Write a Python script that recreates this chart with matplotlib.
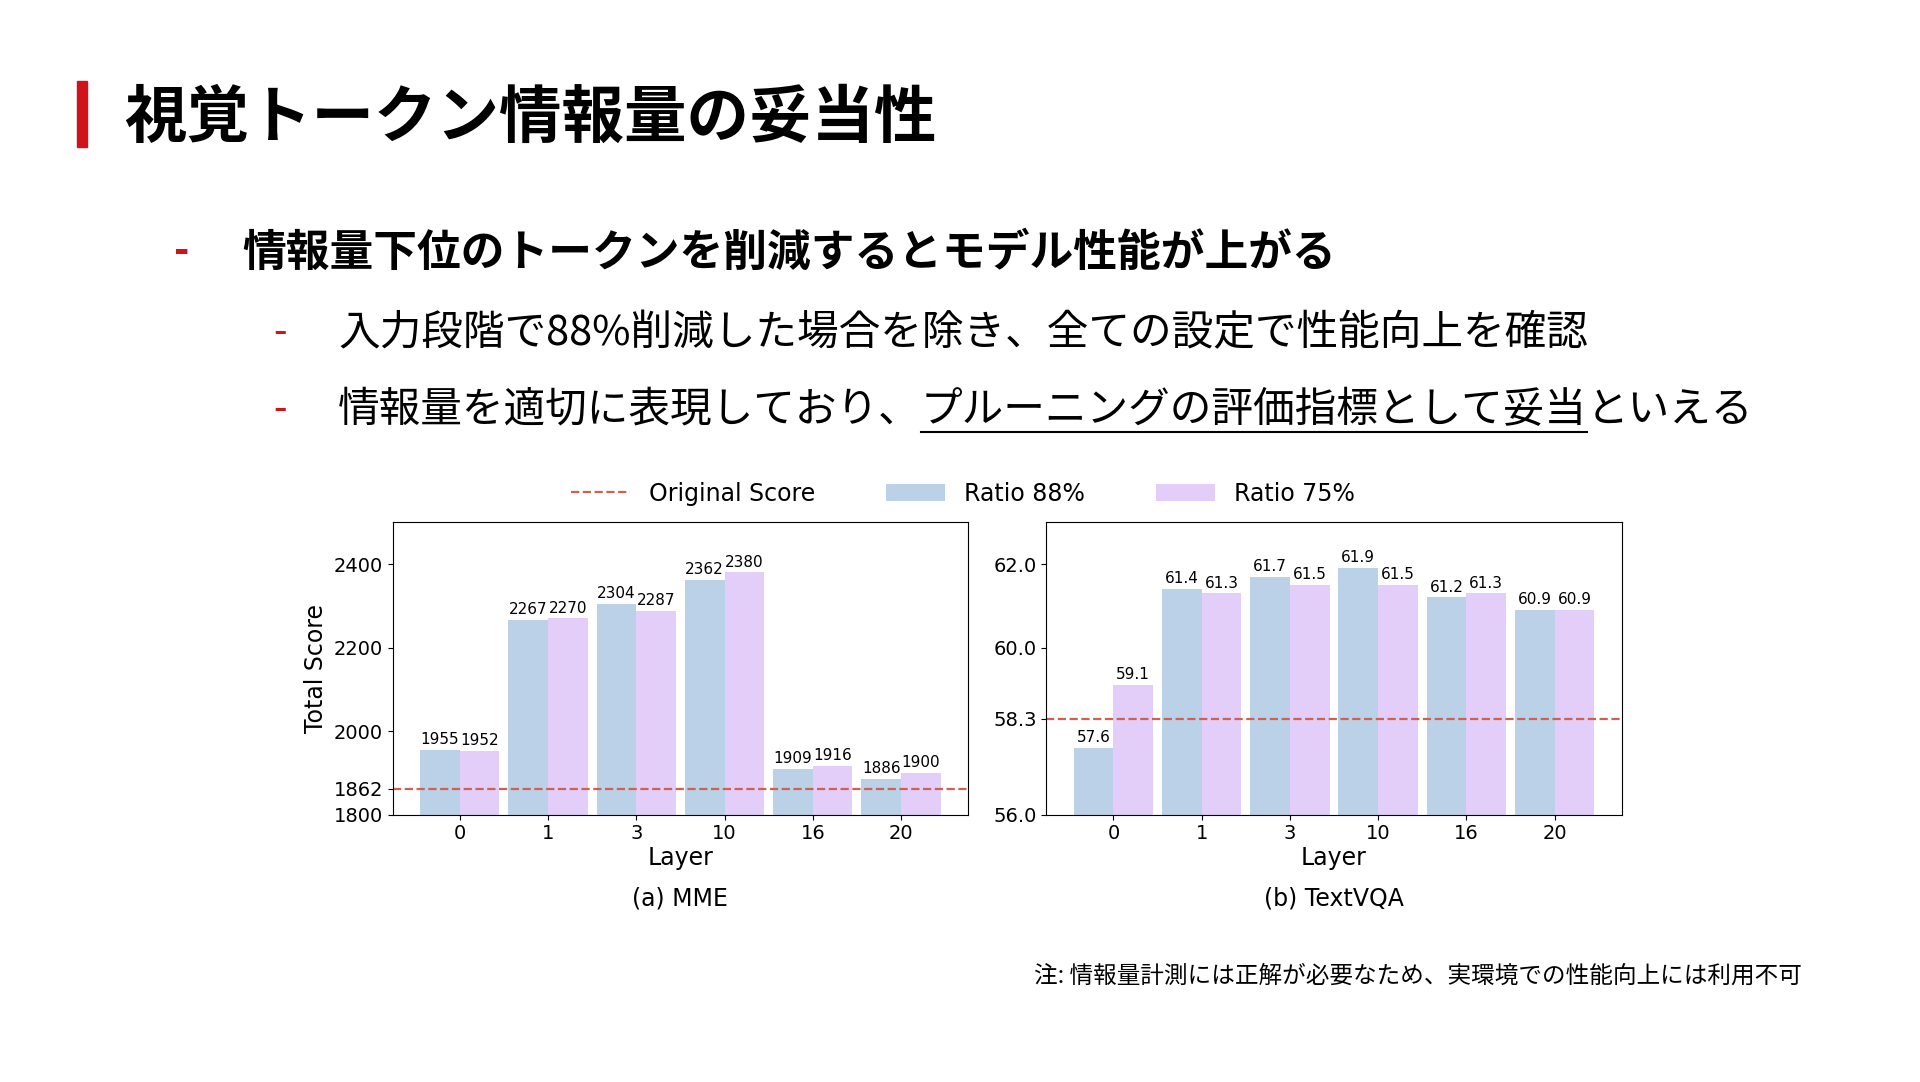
import matplotlib
matplotlib.use("Agg")
import matplotlib.pyplot as plt
import numpy as np

layers = ["0", "1", "3", "10", "16", "20"]
mme_88 = [1955, 2267, 2304, 2362, 1909, 1886]
mme_75 = [1952, 2270, 2287, 2380, 1916, 1900]
mme_orig = 1862
vqa_88 = [57.6, 61.4, 61.7, 61.9, 61.2, 60.9]
vqa_75 = [59.1, 61.3, 61.5, 61.5, 61.3, 60.9]
vqa_orig = 58.3

W, H = 1545, 870
fig = plt.figure(figsize=(19.2, 10.82), dpi=100)
JP = ["Noto Sans CJK JP", "DejaVu Sans"]
def fx(x): return x / W
def fy(y): return 1 - y / H

fig.patches.append(plt.Rectangle((fx(62), fy(118)), fx(8), 53 / H, transform=fig.transFigure, color="#d0121b"))
fig.text(fx(100), fy(95), "視覚トークン情報量の妥当性", family=JP, fontsize=45, weight="bold", va="center")
fig.text(fx(140), fy(203), "-", family=JP, fontsize=30, weight="bold", color="#d0121b", va="center")
fig.text(fx(195), fy(203), "情報量下位のトークンを削減するとモデル性能が上がる", family=JP, fontsize=31.5, weight="bold", va="center")
for y in (268, 330):
    fig.text(fx(220), fy(y), "-", family=JP, fontsize=28, color="#d0121b", va="center")
fig.text(fx(272), fy(268), "入力段階で88%削減した場合を除き、全ての設定で性能向上を確認", family=JP, fontsize=30, va="center")

fig.canvas.draw()
r = fig.canvas.get_renderer()
x = fx(272)
for txt, ul in [("情報量を適切に表現しており、", False), ("プルーニングの評価指標として妥当", True), ("といえる", False)]:
    t = fig.text(x, fy(330), txt, family=JP, fontsize=30, va="center")
    bb = t.get_window_extent(r).transformed(fig.transFigure.inverted())
    if ul:
        fig.lines.append(plt.Line2D([bb.x0, bb.x1], [fy(347)] * 2, transform=fig.transFigure, color="black", lw=1.5))
    x = bb.x1

fig.text(fx(1450), fy(785), "注: 情報量計測には正解が必要なため、実環境での性能向上には利用不可", family=JP, fontsize=17, ha="right", va="center")

c88, c75, cl = "#bad1e8", "#e3cdf9", "#d0604f"
xs = np.arange(len(layers))
w = 0.45

def panel(rect, v88, v75, orig, ylim, ticks, ticklabels, caption, ylabel, fmt):
    ax = fig.add_axes(rect)
    b1 = ax.bar(xs - w / 2, v88, w, color=c88, label="Ratio 88%")
    b2 = ax.bar(xs + w / 2, v75, w, color=c75, label="Ratio 75%")
    ln = ax.axhline(orig, color=cl, ls="--", lw=1.6, label="Original Score")
    ax.bar_label(b1, labels=[fmt(v) for v in v88], fontsize=11, padding=2)
    ax.bar_label(b2, labels=[fmt(v) for v in v75], fontsize=11, padding=2)
    ax.set_ylim(*ylim)
    ax.set_xlim(-0.76, 5.76)
    ax.set_yticks(ticks)
    ax.set_yticklabels(ticklabels)
    ax.set_xticks(xs)
    ax.set_xticklabels(layers)
    ax.tick_params(labelsize=14)
    ax.set_xlabel("Layer", fontsize=17, labelpad=2)
    if ylabel:
        ax.set_ylabel(ylabel, fontsize=17)
    ax.text(0.5, -0.31, caption, transform=ax.transAxes, ha="center", fontsize=17)
    return ax, ln, b1, b2

ax1, ln, b1, b2 = panel([fx(316), fy(655), fx(463), 235 / H], mme_88, mme_75, mme_orig, (1800, 2500),
                        [1800, 1862, 2000, 2200, 2400], ["1800", "1862", "2000", "2200", "2400"], "(a) MME", "Total Score", lambda v: f"{v}")
ax2, *_ = panel([fx(842), fy(655), fx(463), 235 / H], vqa_88, vqa_75, vqa_orig, (56.0, 63.0),
                [56.0, 58.3, 60.0, 62.0], ["56.0", "58.3", "60.0", "62.0"], "(b) TextVQA", None, lambda v: f"{v:.1f}")

fig.legend(handles=[ln, b1, b2], labels=["Original Score", "Ratio 88%", "Ratio 75%"], loc="center",
           bbox_to_anchor=(fx(775), fy(397)), ncol=3, frameon=False, fontsize=17, columnspacing=3, handlelength=2.5)

fig.savefig("out.png", dpi=100, facecolor="white")
